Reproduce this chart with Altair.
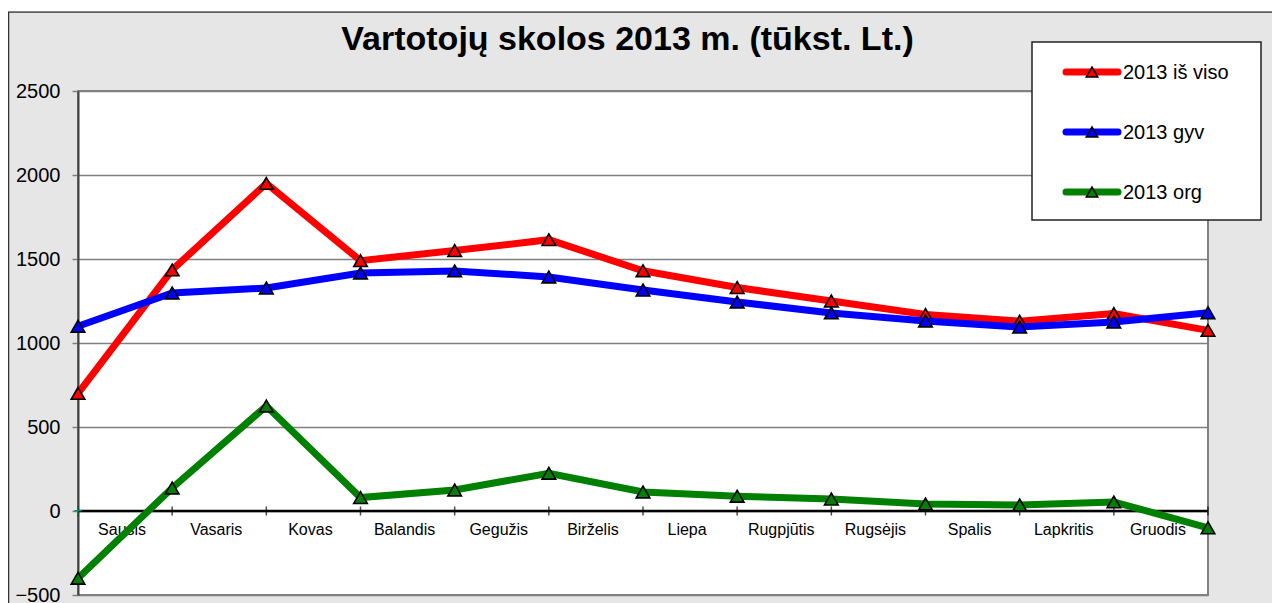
import altair as alt
import pandas as pd

# ---------------- data ----------------
months = ["Sausis", "Vasaris", "Kovas", "Balandis", "Gegužis", "Birželis",
          "Liepa", "Rugpjūtis", "Rugsėjis", "Spalis", "Lapkritis", "Gruodis"]
point_index = list(range(13))
series_names = ["2013 iš viso", "2013 gyv", "2013 org"]
series_colors = ["#ff0000", "#0000ff", "#008000"]
values_total = [700, 1435, 1950, 1490, 1550, 1615, 1430, 1330, 1250, 1170, 1130, 1175, 1075]
values_gyv = [1100, 1298, 1327, 1417, 1429, 1393, 1315, 1244, 1179, 1131, 1095, 1125, 1180]
values_org = [-400, 137, 625, 80, 125, 225, 113, 88, 71, 42, 36, 54, -100]
y_ticks = [-500, 0, 500, 1000, 1500, 2000, 2500]
title_text = "Vartotojų skolos 2013 m. (tūkst. Lt.)"

series_values = [values_total, values_gyv, values_org]

# ---------------- layout ----------------
W, H = 1130, 504
FONT = "Liberation Sans"

xs = alt.Scale(domain=[0, 12], nice=False, zero=False)
ys = alt.Scale(domain=[-500, 2500], nice=False, zero=False)
yaxis = alt.Axis(title=None, values=y_ticks, format="d", labelFontSize=20, labelFont=FONT,
                 labelColor="black", tickColor="#808080", tickSize=6, tickWidth=1.5,
                 labelPadding=12, domainColor="#404040", domainWidth=2,
                 gridColor="#808080", gridWidth=1.5, grid=True)

one = pd.DataFrame({"a": [0]})

frame = alt.Chart(one).mark_rect(fillOpacity=0, stroke="#333333", strokeWidth=1.5).encode(
    x=alt.value(-69.5), x2=alt.value(1260), y=alt.value(-79), y2=alt.value(640))
top_strip = alt.Chart(one).mark_rect(fill="white").encode(
    x=alt.value(-71), x2=alt.value(1260), y=alt.value(-84), y2=alt.value(-79.7))

title_df = pd.DataFrame({"t": [title_text]})
title = alt.Chart(title_df).mark_text(font=FONT, fontSize=34, fontWeight="bold", color="black",
                                      align="center", baseline="alphabetic").encode(
    x=alt.value(549.5), y=alt.value(-41), text="t:N")

zero_rule = alt.Chart(one).mark_rule(color="black", strokeWidth=2.5).encode(
    y=alt.YDatum(0, scale=ys, axis=yaxis))

ticks_df = pd.DataFrame({"i": point_index})
ticks = alt.Chart(ticks_df).mark_tick(orient="vertical", size=9, thickness=1.5, color="black").encode(
    x=alt.X("i:Q", scale=xs, axis=None),
    y=alt.YDatum(0, scale=ys, axis=yaxis))

labels_df = pd.DataFrame({"m": months, "pos": [i + 0.5 for i in range(len(months))]})
month_labels = alt.Chart(labels_df).mark_text(font=FONT, fontSize=16, color="black",
                                              baseline="middle", dy=19, dx=-3).encode(
    x=alt.X("pos:Q", scale=xs, axis=None),
    y=alt.YDatum(0, scale=ys, axis=yaxis),
    text="m:N")

plus = alt.Chart(one).mark_text(text="+", font=FONT, fontSize=16, color="#008b8b",
                                baseline="middle").encode(
    x=alt.XDatum(0, scale=xs, axis=None),
    y=alt.YDatum(0, scale=ys, axis=yaxis))

layers = [frame, top_strip, title, zero_rule, ticks, month_labels, plus]

for name, color, vals in zip(series_names, series_colors, series_values):
    df = pd.DataFrame({"i": point_index, "v": vals, "s": name})
    base = alt.Chart(df).encode(
        x=alt.X("i:Q", scale=xs, axis=None),
        y=alt.Y("v:Q", scale=ys, axis=yaxis))
    layers.append(base.mark_line(color=color, strokeWidth=7))
    layers.append(base.mark_point(shape="triangle-up", size=185, filled=True, fill=color,
                                  fillOpacity=1, stroke="black", strokeWidth=1.6, opacity=1))

# ---------------- legend (drawn) ----------------
legend_box = alt.Chart(one).mark_rect(fill="white", stroke="#222222", strokeWidth=1.5).encode(
    x=alt.value(954), x2=alt.value(1183), y=alt.value(-49), y2=alt.value(129))
layers.append(legend_box)
for k, (name, color) in enumerate(zip(series_names, series_colors)):
    ry = -19 + 60 * k
    ldf = pd.DataFrame({"s": [name]})
    layers.append(alt.Chart(ldf).mark_rule(color=color, strokeWidth=7, strokeCap="round").encode(
        x=alt.value(988), x2=alt.value(1040), y=alt.value(ry)))
    layers.append(alt.Chart(ldf).mark_point(shape="triangle-up", size=130, filled=True, fill=color,
                                            fillOpacity=1, stroke="black", strokeWidth=1.6,
                                            opacity=1).encode(
        x=alt.value(1014), y=alt.value(ry)))
    layers.append(alt.Chart(ldf).mark_text(font=FONT, fontSize=20, color="black", align="left",
                                           baseline="middle").encode(
        x=alt.value(1045), y=alt.value(ry + 1), text="s:N"))

chart = alt.layer(*layers).properties(
    width=W, height=H,
    background="#e6e6e6",
    padding={"left": 70, "top": 83, "right": 64, "bottom": 8},
    autosize=alt.AutoSizeParams(type="none"),
).configure_view(fill="white", stroke="#808080", strokeWidth=2)

chart.save("out.html", embed_options={"renderer": "svg", "actions": False})
